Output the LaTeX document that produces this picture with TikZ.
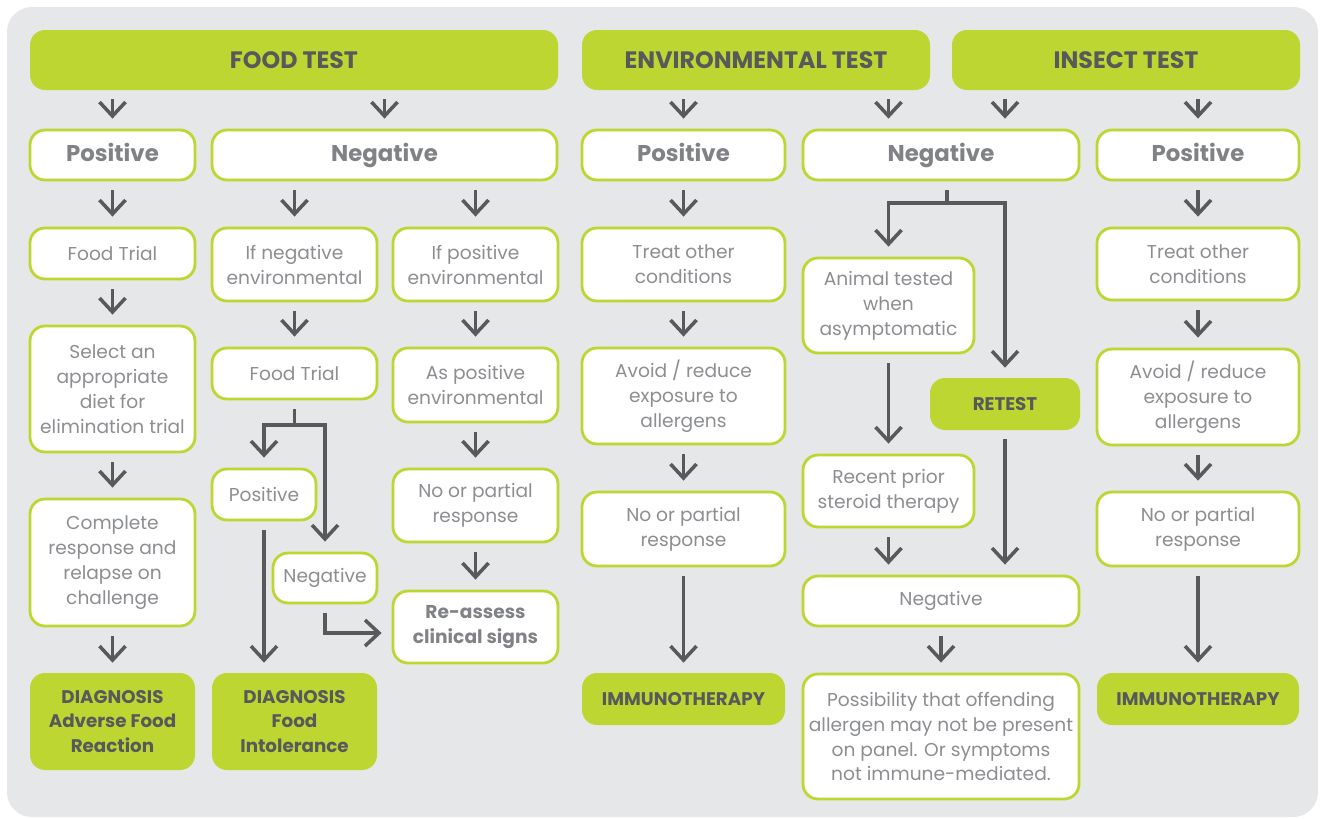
\documentclass[tikz,border=0pt]{standalone}
\usepackage{fontspec}
\setmainfont{Poppins}
\usetikzlibrary{arrows.meta}

\definecolor{panelgray}{HTML}{E6E7E8}
\definecolor{limegreen}{HTML}{BDD632}
\definecolor{arrowgray}{HTML}{58595B}
\definecolor{textgray}{HTML}{8C8E91}
\definecolor{labelgray}{HTML}{808285}

\tikzset{
	box/.style={draw=limegreen, line width=1.6pt, fill=white, rounded corners=0.3cm, text=textgray, align=center, inner sep=0pt, font=\fontsize{10.6}{14.2}\selectfont},
	bigbox/.style={box, text=labelgray, text height=1.6ex, text depth=0.3ex, font=\fontsize{13}{15}\selectfont\bfseries},
	greenbox/.style={fill=limegreen, rounded corners=0.3cm, text=arrowgray, align=center, inner sep=0pt, font=\fontsize{10.4}{14}\selectfont\bfseries},
	header/.style={greenbox, font=\fontsize{13.5}{16}\selectfont\bfseries},
	arr/.style={draw=arrowgray, line width=2pt, -{Straight Barb[length=0.28cm,width=0.52cm]}, shorten <=0.18cm, shorten >=0.2cm},
	link/.style={draw=arrowgray, line width=2pt, shorten <=0.18cm}
}

\begin{document}
\begin{tikzpicture}
		\useasboundingbox (0,0) rectangle (26.42,-16.36);
		\fill[panelgray, rounded corners=0.5cm] (0.14,-0.14) rectangle (26.36,-16.34);

		% test headers
		\node[header, minimum width=10.56cm, minimum height=1.2cm] (food) at (5.88,-1.2) {FOOD TEST};
		\node[header, minimum width=6.96cm, minimum height=1.2cm] (env) at (15.12,-1.2) {ENVIRONMENTAL TEST};
		\node[header, minimum width=6.96cm, minimum height=1.2cm] (ins) at (22.52,-1.2) {INSECT TEST};

		\node[bigbox, minimum width=3.3cm, minimum height=1cm] (fpos) at (2.25,-3.1) {Positive};
		\node[bigbox, minimum width=6.9cm, minimum height=1cm] (fneg) at (7.69,-3.1) {Negative};
		\node[bigbox, minimum width=4.06cm, minimum height=1cm] (epos) at (13.67,-3.1) {Positive};
		\node[bigbox, minimum width=5.52cm, minimum height=1cm] (eneg) at (18.82,-3.1) {Negative};
		\node[bigbox, minimum width=4.04cm, minimum height=1cm] (ipos) at (23.96,-3.1) {Positive};

		% food test, positive
		\node[box, minimum width=3.3cm, minimum height=1.02cm] (ftrial1) at (2.25,-5.07) {Food Trial};
		\node[box, minimum width=3.3cm, minimum height=2.52cm] (select) at (2.25,-7.78) {Select an\\appropriate\\diet for\\elimination trial};
		\node[box, minimum width=3.3cm, minimum height=2.54cm] (complete) at (2.25,-11.25) {Complete\\response and\\relapse on\\challenge};
		\node[greenbox, minimum width=3.3cm, minimum height=1.94cm] (diag1) at (2.25,-14.43) {DIAGNOSIS\\Adverse Food\\Reaction};

		% food test, negative
		\node[box, minimum width=3.3cm, minimum height=1.46cm] (ifneg) at (5.89,-5.29) {If negative\\environmental};
		\node[box, minimum width=3.3cm, minimum height=1.02cm] (ftrial2) at (5.89,-7.47) {Food Trial};
		\node[box, minimum width=2.08cm, minimum height=1.02cm] (pos2) at (5.28,-9.89) {Positive};
		\node[box, minimum width=2.08cm, minimum height=1cm] (neg2) at (6.5,-11.56) {Negative};
		\node[greenbox, minimum width=3.3cm, minimum height=1.94cm] (diag2) at (5.89,-14.43) {DIAGNOSIS\\Food\\Intolerance};
		\coordinate (fork2) at (5.89,-8.5);

		\node[box, minimum width=3.3cm, minimum height=1.46cm] (ifpos) at (9.51,-5.29) {If positive\\environmental};
		\node[box, minimum width=3.3cm, minimum height=1.48cm] (aspos) at (9.51,-7.7) {As positive\\environmental};
		\node[box, minimum width=3.3cm, minimum height=1.46cm] (nopart3) at (9.51,-10.11) {No or partial\\response};
		\node[box, text=labelgray, font=\fontsize{10.6}{14.2}\selectfont\bfseries, minimum width=3.3cm, minimum height=1.44cm] (reas) at (9.51,-12.54) {Re-assess\\clinical signs};

		% environmental test, positive
		\node[box, minimum width=4.06cm, minimum height=1.46cm] (treat4) at (13.67,-5.29) {Treat other\\conditions};
		\node[box, minimum width=4.06cm, minimum height=1.92cm] (avoid4) at (13.67,-7.92) {Avoid / reduce\\exposure to\\allergens};
		\node[box, minimum width=4.06cm, minimum height=1.48cm] (nopart4) at (13.67,-10.58) {No or partial\\response};
		\node[greenbox, minimum width=4.06cm, minimum height=1.04cm] (immu4) at (13.67,-13.98) {IMMUNOTHERAPY};

		% negative
		\node[box, minimum width=3.42cm, minimum height=1.9cm] (animal) at (17.77,-6.11) {Animal tested\\when\\asymptomatic};
		\node[greenbox, minimum width=3cm, minimum height=1.04cm] (retest) at (20.1,-8.08) {RETEST};
		\node[box, minimum width=3.42cm, minimum height=1.44cm] (recent) at (17.77,-9.82) {Recent prior\\steroid therapy};
		\node[box, minimum width=5.52cm, minimum height=1cm] (negb) at (18.82,-12.02) {Negative};
		\node[box, minimum width=5.52cm, minimum height=2.5cm] (poss) at (18.82,-14.73) {Possibility that offending\\allergen may not be present\\on panel. Or symptoms\\not immune-mediated.};
		\coordinate (fork5) at (18.94,-4.06);

		% insect test, positive
		\node[box, minimum width=4.04cm, minimum height=1.44cm] (treat6) at (23.96,-5.28) {Treat other\\conditions};
		\node[box, minimum width=4.04cm, minimum height=1.92cm] (avoid6) at (23.96,-7.94) {Avoid / reduce\\exposure to\\allergens};
		\node[box, minimum width=4.04cm, minimum height=1.48cm] (nopart6) at (23.96,-10.58) {No or partial\\response};
		\node[greenbox, minimum width=4.04cm, minimum height=1.04cm] (immu6) at (23.96,-13.98) {IMMUNOTHERAPY};

		\draw[arr] (food.south -| fpos) -- (fpos);
		\draw[arr] (food.south -| fneg) -- (fneg);
		\draw[arr] (env.south -| epos) -- (epos);
		\draw[arr] (env.south -| animal) -- (eneg.north -| animal);
		\draw[arr] (ins.south -| retest) -- (eneg.north -| retest);
		\draw[arr] (ins.south -| ipos) -- (ipos);

		\draw[arr] (fpos) -- (ftrial1);
		\draw[arr] (ftrial1) -- (select);
		\draw[arr] (select) -- (complete);
		\draw[arr] (complete) -- (diag1);

		\draw[arr] (fneg.south -| ifneg) -- (ifneg);
		\draw[arr] (ifneg) -- (ftrial2);
		\draw[link] (ftrial2) -- (fork2);
		\draw[arr, shorten <=0pt] (fork2) -| (pos2);
		\draw[arr, shorten <=0pt] (fork2) -| (neg2);
		\draw[arr] (pos2) -- (diag2.north -| pos2);
		\draw[arr] (neg2) |- ([yshift=-0.12cm]reas.west);

		\draw[arr] (fneg.south -| ifpos) -- (ifpos);
		\draw[arr] (ifpos) -- (aspos);
		\draw[arr] (aspos) -- (nopart3);
		\draw[arr] (nopart3) -- (reas);

		\draw[arr] (epos) -- (treat4);
		\draw[arr] (treat4) -- (avoid4);
		\draw[arr] (avoid4) -- (nopart4);
		\draw[arr] (nopart4) -- (immu4);

		\draw[link] (eneg.south -| fork5) -- (fork5);
		\draw[arr, shorten <=0pt] (fork5) -| (animal);
		\draw[arr, shorten <=0pt] (fork5) -| (retest);
		\draw[arr] (animal) -- (recent);
		\draw[arr] (recent) -- (negb.north -| recent);
		\draw[arr] (retest) -- (negb.north -| retest);
		\draw[arr] (negb) -- (poss);

		\draw[arr] (ipos) -- (treat6);
		\draw[arr] (treat6) -- (avoid6);
		\draw[arr] (avoid6) -- (nopart6);
		\draw[arr] (nopart6) -- (immu6);
	\end{tikzpicture}
\end{document}
